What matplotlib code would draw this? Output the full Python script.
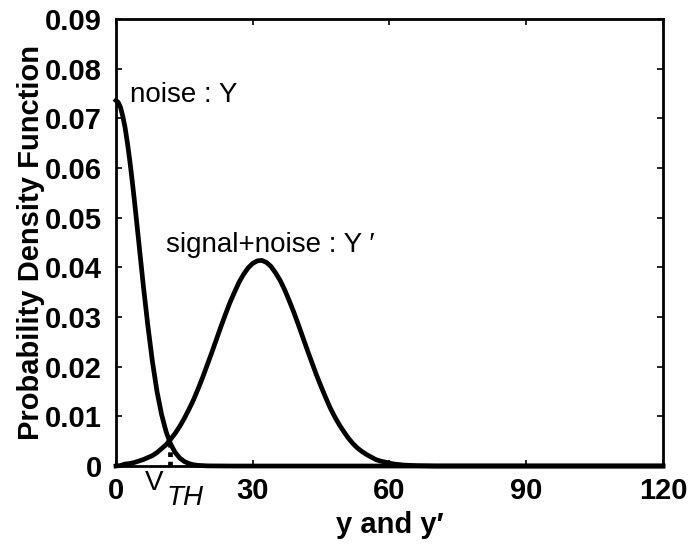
import matplotlib
matplotlib.use("Agg")
import matplotlib.pyplot as plt

# values
noise_x = [0, 0.5, 1, 1.5, 2, 2.5, 3, 3.5, 4, 4.5, 5, 6, 7, 8, 9, 10, 11, 12, 13, 14,
           15, 16, 17, 18, 20, 25, 120]
noise_pdf = [0.0736, 0.0732, 0.0722, 0.0704, 0.0681, 0.0651, 0.0617, 0.0579, 0.0538,
             0.0495, 0.0451, 0.0363, 0.0282, 0.0210, 0.0150, 0.0104, 0.0069, 0.0044,
             0.0027, 0.0016, 0.0009, 0.0005, 0.00025, 0.00013, 0.00003, 0.0, 0.0]

signal_x = [0, 1, 2, 3, 4, 5, 6, 7, 8, 9, 10, 11, 12, 13, 14, 15, 16, 17, 18, 19, 20,
            21, 22, 23, 24, 25, 26, 27, 28, 29, 30, 31, 32, 33, 34, 35, 36, 37, 38, 39,
            40, 41, 42, 43, 44, 45, 46, 47, 48, 49, 50, 51, 52, 53, 54, 55, 56, 57, 58,
            59, 60, 61, 62, 63, 64, 66, 70, 120]
signal_pdf = [0.0, 0.0001, 0.0004, 0.0005, 0.0007, 0.0010, 0.0013, 0.0017, 0.0021,
              0.0027, 0.0035, 0.0043, 0.0054, 0.0066, 0.0080, 0.0096, 0.0114, 0.0133,
              0.0155, 0.0178, 0.0203, 0.0228, 0.0254, 0.0280, 0.0305, 0.0329, 0.0350,
              0.0370, 0.0386, 0.0399, 0.0408, 0.0413, 0.0414, 0.0410, 0.0402, 0.0389,
              0.0374, 0.0355, 0.0333, 0.0310, 0.0285, 0.0259, 0.0233, 0.0208, 0.0183,
              0.0160, 0.0138, 0.0117, 0.0099, 0.0083, 0.0069, 0.0056, 0.0045, 0.0036,
              0.0029, 0.0023, 0.0018, 0.0013, 0.0010, 0.0008, 0.0006, 0.0004, 0.0003,
              0.0002, 0.00015, 0.00007, 0.0, 0.0]

v_th = 11.9
v_th_pdf = 0.0050

x_ticks = [0, 30, 60, 90, 120]
y_ticks = [0, 0.01, 0.02, 0.03, 0.04, 0.05, 0.06, 0.07, 0.08, 0.09]
y_tick_labels = ["0", "0.01", "0.02", "0.03", "0.04", "0.05", "0.06", "0.07", "0.08", "0.09"]

plt.rcParams["font.family"] = ["Liberation Sans", "DejaVu Sans"]

fig = plt.figure(figsize=(6.92, 5.48), dpi=100)
ax = fig.add_axes([0.1676, 0.1496, 0.7904, 0.8157])

ax.plot(noise_x, noise_pdf, color="black", lw=3.4, clip_on=False, solid_joinstyle="round")
ax.plot(signal_x, signal_pdf, color="black", lw=3.4, clip_on=False, solid_joinstyle="round")
# dotted threshold marker under the crossing point
ax.plot([v_th, v_th], [0, v_th_pdf], color="black", lw=3.4, ls=(0, (1, 1)))

ax.set_xlim(0, 120)
ax.set_ylim(0, 0.09)
ax.set_xticks(x_ticks)
ax.set_xticklabels([str(t) for t in x_ticks], fontweight="bold", fontsize=21)
ax.set_yticks(y_ticks)
ax.set_yticklabels(y_tick_labels, fontweight="bold", fontsize=21)
ax.tick_params(direction="in", length=4, width=1.2, top=True, right=True, pad=8)
ax.tick_params(axis="y", pad=10)
for s in ax.spines.values():
    s.set_linewidth(2)

ax.set_ylabel("Probability Density Function", fontweight="bold", fontsize=21, labelpad=0)
ax.set_xlabel("y and y\u2032", fontweight="bold", fontsize=21, labelpad=4)

ax.text(3.1, 0.0748, "noise : Y", fontsize=20, va="center", ha="left")
ax.text(11, 0.0445, "signal+noise : Y \u2032", fontsize=20, va="center", ha="left")
ax.text(6.3, -0.0035, "V", fontsize=20, va="center", ha="left", clip_on=False)
ax.text(11.1, -0.0065, "TH", fontsize=20, style="italic", va="center", ha="left", clip_on=False)

fig.savefig("out.png", dpi=100)
